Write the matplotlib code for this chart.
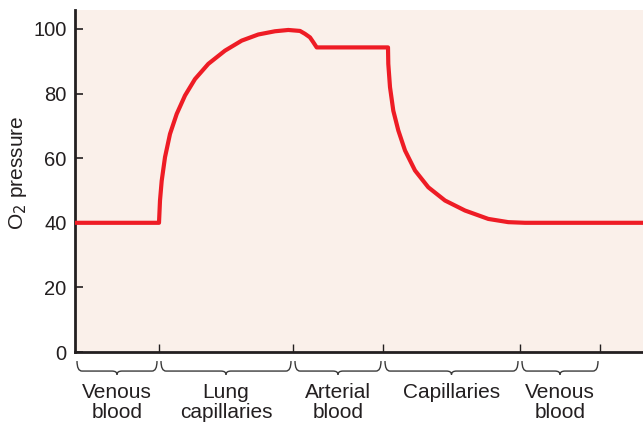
import numpy as np
import matplotlib.pyplot as plt
from matplotlib.path import Path
from matplotlib.patches import PathPatch

plt.rcParams['font.family'] = ['Liberation Sans', 'DejaVu Sans']

# O2 pressure trace (x in arbitrary distance units along the circulation)
x_vals = [0, 84, 85, 86.7, 90, 95, 101.7, 110, 120, 133.3, 150, 166.7, 183.3,
          200, 213.3, 225, 230, 235, 238.3, 241.7, 313, 313.3, 315, 318.3,
          323.3, 330, 340, 353.3, 370, 390, 413.3, 433.3, 450, 568]
o2_vals = [40, 40, 46.9, 53.0, 60.3, 67.5, 73.7, 79.4, 84.5, 89.2, 93.3, 96.4,
           98.3, 99.3, 99.7, 99.4, 98.5, 97.4, 95.9, 94.3, 94.3, 89.2, 82.0,
           74.7, 68.6, 62.4, 56.2, 51.0, 46.9, 43.8, 41.2, 40.2, 40, 40]

yticks = [0, 20, 40, 60, 80, 100]
seg_edges = [0, 84, 218, 308, 445, 525]
seg_labels = ['Venous\nblood', 'Lung\ncapillaries', 'Arterial\nblood',
              'Capillaries', 'Venous\nblood']

ink = '#231F20'
fig = plt.figure(figsize=(6.43, 4.25), dpi=100)
ax = fig.add_axes([75 / 643, 1 - 352 / 425, 1 - 75 / 643, (352 - 10) / 425])
ax.set_facecolor('#FAF0EA')

ax.plot(x_vals, o2_vals, color='#EE1C25', lw=3.0, solid_joinstyle='round',
        solid_capstyle='butt', clip_on=False, zorder=3)

ax.set_xlim(0, 568)
ax.set_ylim(0, 342 / 3.23)
ax.set_yticks(yticks)
ax.set_xticks(seg_edges[1:])
ax.set_xticklabels([])
ax.tick_params(axis='y', direction='in', length=6, width=1.2, color=ink,
               labelsize=14.5, pad=6, labelcolor=ink)
ax.tick_params(axis='x', direction='in', length=6, width=1.0, color=ink)
for s in ['top', 'right']:
    ax.spines[s].set_visible(False)
for s in ['left', 'bottom']:
    ax.spines[s].set_color(ink)
    ax.spines[s].set_linewidth(2)
fig.text(18 / 643, 1 - 173 / 425, 'O$_2$ pressure', rotation=90,
         ha='center', va='center', fontsize=15, color=ink)

# braces under each segment
ytop, ymid, ybot = -2.8, -5.9, -7.0
r = 5
for i in range(len(seg_labels)):
    x0 = seg_edges[i] + 2
    x1 = seg_edges[i + 1] - 2
    xm = (x0 + x1) / 2
    verts = [(x0, ytop), (x0, ymid), (x0 + r, ymid), (xm - r, ymid),
             (xm, ymid), (xm, ybot), (xm, ymid), (xm + r, ymid),
             (x1 - r, ymid), (x1, ymid), (x1, ytop)]
    codes = [Path.MOVETO, Path.CURVE3, Path.CURVE3, Path.LINETO,
             Path.CURVE3, Path.CURVE3, Path.CURVE3, Path.CURVE3,
             Path.LINETO, Path.CURVE3, Path.CURVE3]
    ax.add_patch(PathPatch(Path(verts, codes), fill=False, ec='#3a3a3a',
                           lw=1.0, clip_on=False))
    ax.text(xm, -9.6, seg_labels[i], ha='center', va='top', fontsize=15,
            color=ink, linespacing=1.05)

fig.savefig('out.png', dpi=100)
